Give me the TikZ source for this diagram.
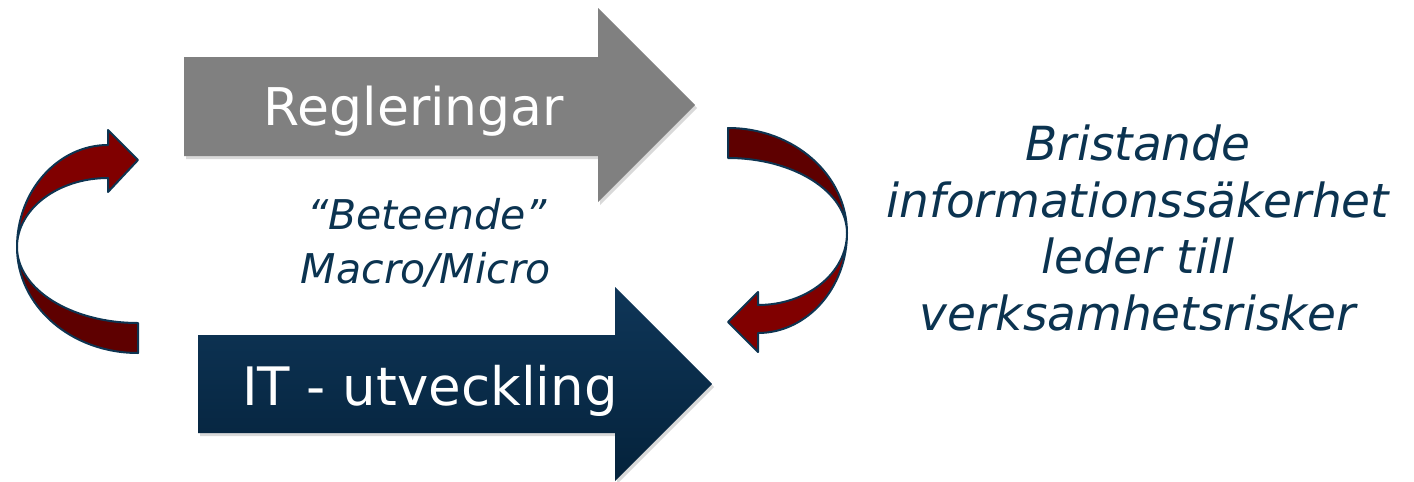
\documentclass[tikz,border=0pt]{standalone}
\usepackage{fontspec}
\setmainfont{DejaVu Sans}
\usetikzlibrary{shadows}
\definecolor{reggray}{HTML}{808080}
\definecolor{itnavytop}{HTML}{0F3658}
\definecolor{itnavybot}{HTML}{04223B}
\definecolor{textnavy}{HTML}{0B3350}
\definecolor{loopred}{HTML}{800000}
\definecolor{loopdark}{HTML}{5E0000}
\definecolor{loopedge}{HTML}{0D3451}

\begin{document}
\begin{tikzpicture}[x=1pt, y=-1pt,
    blocktext/.style={text=white, inner sep=0pt, anchor=base,
      font=\fontsize{52pt}{52pt}\selectfont},
    risktext/.style={text=textnavy, inner sep=0pt, anchor=base,
      font=\fontsize{47pt}{47pt}\selectfont\itshape},
    midtext/.style={text=textnavy, inner sep=0pt, anchor=base,
      font=\fontsize{41pt}{41pt}\selectfont\itshape},
    loopband/.style={draw=loopedge, line width=2pt, line join=round},
    softshadow/.style={drop shadow={opacity=0.3, shadow xshift=2pt, shadow yshift=-3pt}}]
  \useasboundingbox (0,0) rectangle (1414,482);

  % block arrows
  \path[fill=reggray, softshadow]
    (184,57) -- (598,57) -- (598,8) -- (695,105) -- (598,202) -- (598,156) -- (184,156) -- cycle;
  \path[top color=itnavytop, bottom color=itnavybot, softshadow]
    (198,335) -- (615,335) -- (615,287) -- (712,384) -- (615,481) -- (615,433) -- (198,433) -- cycle;
  \node[blocktext] (regler) at (414,125) {Regleringar};
  \node[blocktext, font=\fontsize{53pt}{53pt}\selectfont] (itutv) at (430,405) {IT - utveckling};

  % left loop arrow
  \draw[loopband, fill=loopdark]
    (138,323) -- (138,353) .. controls (71,353) and (17,306) .. (17,247)
    .. controls (17,289) and (71,323) .. (138,323) -- cycle;
  \draw[loopband, fill=loopred]
    (17,247) .. controls (17,191) and (58,145) .. (108,145) -- (108,130) -- (138,160)
    -- (108,192) -- (108,178) .. controls (58,178) and (17,209) .. (17,247) -- cycle;

  % right loop arrow
  \draw[loopband, fill=loopdark]
    (728,128) .. controls (794,128) and (847,175) .. (847,233)
    .. controls (847,192) and (794,158) .. (728,158) -- cycle;
  \draw[loopband, fill=loopred]
    (847,233) .. controls (847,288) and (807,333) .. (758,333) -- (758,352) -- (728,322)
    -- (758,292) -- (758,305) .. controls (807,305) and (847,273) .. (847,233) -- cycle;

  \node[midtext] (beteende) at (427,229) {“Beteende”};
  \node[midtext] (macro) at (426,283) {Macro/Micro};

  \foreach \txt [count=\i] in {Bristande, informationssäkerhet, leder till, verksamhetsrisker}
    \node[risktext] (risk\i) at (1138,104+56.5*\i) {\txt};
\end{tikzpicture}
\end{document}
